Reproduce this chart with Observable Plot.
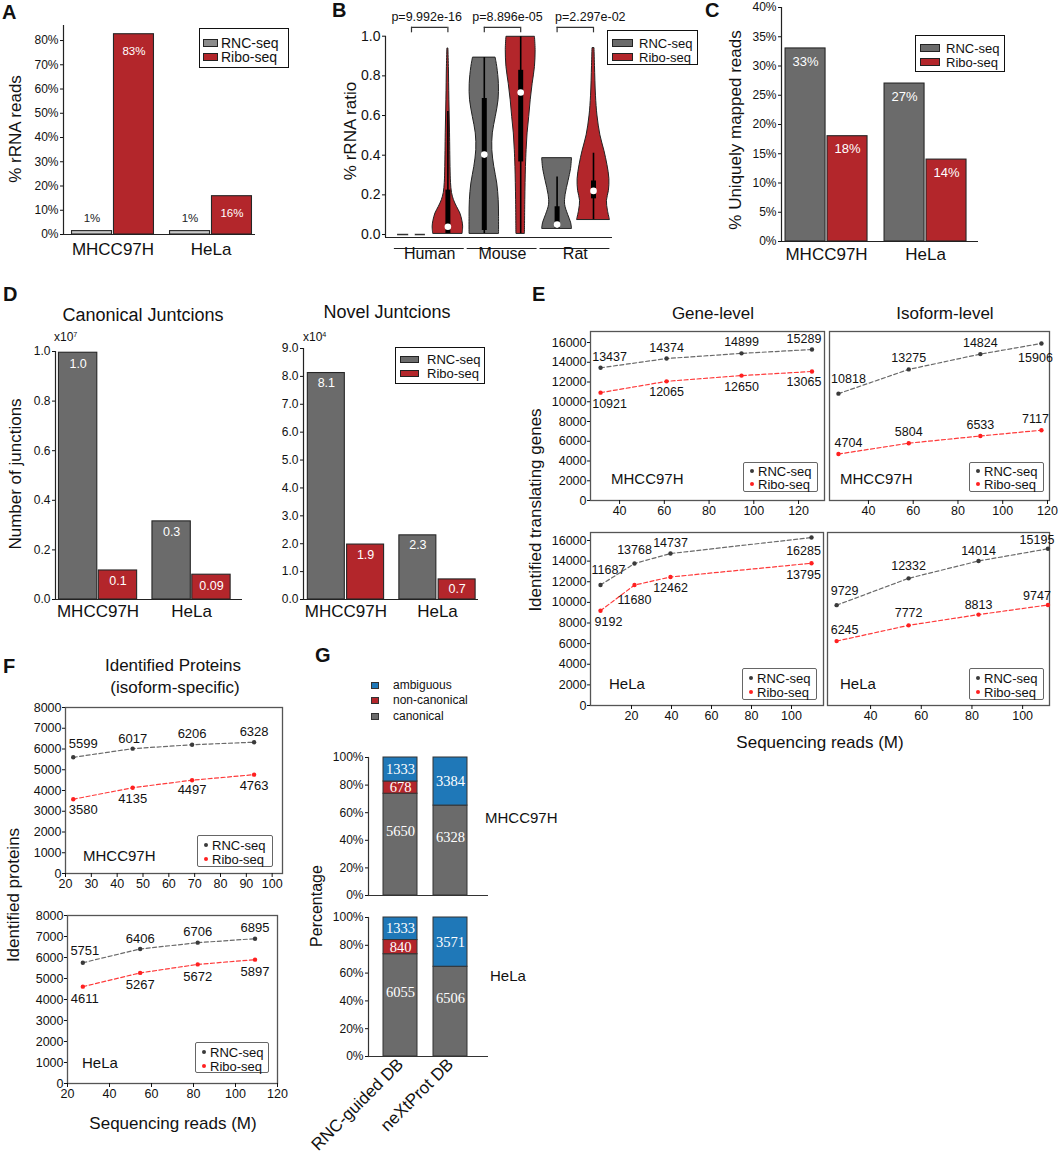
<!DOCTYPE html>
<html><head><meta charset="utf-8">
<script src="https://cdn.jsdelivr.net/npm/d3@7"></script>
<script src="https://cdn.jsdelivr.net/npm/@observablehq/plot@0.6"></script>
<style>
body{margin:0;background:#fff}
#fig{position:relative;width:1059px;height:1162px;background:#fff;font-family:"Liberation Sans",Arial,Helvetica,sans-serif;color:#111;overflow:hidden}
.t{position:absolute;white-space:nowrap;line-height:1}
.leg{position:absolute;border-style:solid;box-sizing:border-box;background:#fff}
sup{font-size:0.6em;vertical-align:0.6em;line-height:0}
</style></head><body><div id="fig"></div><script>
// ---------------- DATA ----------------
const cellLines = ["MHCC97H", "HeLa"];
const seqTypes = ["RNC-seq", "Ribo-seq"];
// A: % rRNA reads
const rrnaRNC = [1.4, 1.4];
const rrnaRibo = [82.6, 15.8];
// B: % rRNA ratio violins
const species = ["Human", "Mouse", "Rat"];
const pValues = ["p=9.992e-16", "p=8.896e-05", "p=2.297e-02"];
const humanRNCY = [0, 0];
const humanRNCD = [0.85, 0.85];
const humanRNCStats = [0, 0, 0, 0, 0];
const humanRiboY = [0.005, 0.04, 0.07, 0.106, 0.14, 0.173, 0.21, 0.26, 0.34, 0.51, 0.68, 0.845, 0.938];
const humanRiboD = [0.9, 0.93, 0.88, 0.76, 0.55, 0.37, 0.25, 0.19, 0.16, 0.13, 0.09, 0.06, 0.03];
const humanRiboStats = [0.005, 0.005, 0.039, 0.224, 0.62];
const mouseRNCY = [0.005, 0.089, 0.173, 0.257, 0.341, 0.425, 0.51, 0.593, 0.677, 0.76, 0.845, 0.892];
const mouseRNCD = [0.9, 0.9, 0.88, 0.79, 0.61, 0.49, 0.52, 0.7, 0.87, 0.89, 0.79, 0.69];
const mouseRNCStats = [0.005, 0.02, 0.403, 0.686, 0.892];
const mouseRiboY = [0.005, 0.173, 0.34, 0.425, 0.51, 0.593, 0.677, 0.76, 0.845, 0.93, 0.997];
const mouseRiboD = [0.26, 0.28, 0.32, 0.36, 0.42, 0.52, 0.61, 0.73, 0.87, 0.91, 0.87];
const mouseRiboStats = [0.005, 0.366, 0.716, 0.828, 0.997];
const ratRNCY = [0.03, 0.06, 0.1, 0.15, 0.2, 0.27, 0.33, 0.385];
const ratRNCD = [0.91, 0.85, 0.67, 0.49, 0.52, 0.7, 0.85, 0.91];
const ratRNCStats = [0.03, 0.03, 0.05, 0.14, 0.29];
const ratRiboY = [0.075, 0.12, 0.17, 0.22, 0.28, 0.35, 0.42, 0.5, 0.6, 0.7, 0.85, 0.94];
const ratRiboD = [1.0, 0.88, 0.82, 0.94, 0.97, 0.85, 0.67, 0.42, 0.24, 0.15, 0.09, 0.06];
const ratRiboStats = [0.075, 0.18, 0.22, 0.27, 0.41];
// C: % uniquely mapped reads
const uniqRNC = [33, 27];
const uniqRibo = [18, 14];
// D: junctions
const canonRNC = [0.995, 0.315];
const canonRibo = [0.117, 0.10];
const canonLabelsRNC = ["1.0", "0.3"];
const canonLabelsRibo = ["0.1", "0.09"];
const novelRNC = [8.12, 2.3];
const novelRibo = [1.97, 0.72];
const novelLabelsRNC = ["8.1", "2.3"];
const novelLabelsRibo = ["1.9", "0.7"];
// E: identified translating genes
const geneMHCCReads = [31.5, 61, 94.5, 126];
const geneMHCCRNC = [13437, 14374, 14899, 15289];
const geneMHCCRibo = [10921, 12065, 12650, 13065];
const isoMHCCReads = [26.6, 58, 90, 117.3];
const isoMHCCRNC = [10818, 13275, 14824, 15906];
const isoMHCCRibo = [4704, 5804, 6533, 7117];
const geneHeLaReads = [4.5, 21.5, 39.5, 110];
const geneHeLaRNC = [11687, 13768, 14737, 16285];
const geneHeLaRibo = [9192, 11680, 12462, 13795];
const isoHeLaReads = [26.6, 55, 82.6, 110];
const isoHeLaRNC = [9729, 12332, 14014, 15195];
const isoHeLaRibo = [6245, 7772, 8813, 9747];
// F: identified proteins
const protMHCCReads = [23, 46, 69, 93];
const protMHCCRNC = [5599, 6017, 6206, 6328];
const protMHCCRibo = [3580, 4135, 4497, 4763];
const protHeLaReads = [27.3, 54.6, 82, 109.3];
const protHeLaRNC = [5751, 6406, 6706, 6895];
const protHeLaRibo = [4611, 5267, 5672, 5897];
// G: protein categories
const dbNames = ["RNC-guided DB", "neXtProt DB"];
const protTypes = ["canonical", "non-canonical", "ambiguous"];
const mhccCanonical = [5650, 6328];
const mhccNonCanonical = [678, 0];
const mhccAmbiguous = [1333, 3384];
const helaCanonical = [6055, 6506];
const helaNonCanonical = [840, 0];
const helaAmbiguous = [1333, 3571];

// ---------------- STYLE ----------------
const FONT = '"Liberation Sans", Arial, Helvetica, sans-serif';
const SERIF = '"Liberation Serif", "DejaVu Serif", serif';
const GRAY = "#6b6b6b", RED = "#b3262b", LIGHT = "#c9c9c9", BLUE = "#1f78b8";
const fig = document.getElementById("fig");

function place(node, L, T) {
  node.style.position = "absolute"; node.style.left = L + "px"; node.style.top = T + "px";
  fig.appendChild(node); return node;
}
function box(L, T, W, H, x0, x1, y0, y1) {
  return {width: W, height: H, marginLeft: x0 - L, marginRight: L + W - x1, marginTop: y0 - T, marginBottom: T + H - y1};
}
const svgStyle = {fontFamily: FONT, background: "transparent", overflow: "visible", color: "#111"};
function label(str, x, y, o = {}) {
  const d = document.createElement("div");
  d.className = "t";
  if (o.html) d.innerHTML = str; else d.textContent = str;
  d.style.fontSize = (o.size || 14) + "px";
  d.style.fontWeight = o.weight || "normal";
  d.style.fontFamily = o.family || FONT;
  d.style.color = o.color || "#111";
  d.style.left = x + "px"; d.style.top = y + "px";
  const tx = o.anchor === "start" ? "0" : o.anchor === "end" ? "-100%" : "-50%";
  d.style.transform = `translate(${tx},-50%)` + (o.rotate ? ` rotate(${o.rotate}deg)` : "");
  fig.appendChild(d); return d;
}
function legend(x, y, w, h, rows, o) {
  const d = document.createElement("div");
  d.className = "leg";
  Object.assign(d.style, {left: x + "px", top: y + "px", width: w + "px", height: h + "px",
    borderColor: o.border || "#111", borderWidth: (o.bw || 1.5) + "px", borderRadius: (o.radius || 0) + "px"});
  rows.forEach(r => {
    const sw = o.sw;
    const s = document.createElement("div");
    Object.assign(s.style, {position: "absolute", left: sw.dx + "px", top: (r.ry - sw.h / 2) + "px",
      width: sw.w + "px", height: sw.h + "px", background: r.color, boxSizing: "border-box",
      border: sw.dot ? "none" : "1px solid #222", borderRadius: sw.dot ? "50%" : "0"});
    d.appendChild(s);
    const t = document.createElement("div");
    t.textContent = r.label;
    Object.assign(t.style, {position: "absolute", left: o.tx + "px", top: r.ry + "px", transform: "translateY(-50%)",
      fontSize: o.size + "px", lineHeight: "1", whiteSpace: "nowrap"});
    d.appendChild(t);
  });
  fig.appendChild(d);
}

// ---------------- grouped bars (A, C, D) ----------------
function groupedBars(c) {
  const rows = [];
  cellLines.forEach((g, gi) => c.series.forEach((vals, si) =>
    rows.push({group: g, gi, si, value: vals[gi], label: c.labels ? c.labels[si][gi] : c.fmt(vals[gi])})));
  const x1 = d => d.gi + (d.si === 0 ? -(c.bw + c.gap / 2) : c.gap / 2);
  const x2 = d => x1(d) + c.bw;
  const xm = d => (x1(d) + x2(d)) / 2;
  const p = Plot.plot({
    ...box(...c.box),
    style: svgStyle,
    x: {domain: c.xDomain},
    y: {domain: c.yDomain},
    color: {type: "identity"},
    marks: [
      Plot.rectY(rows, {x1, x2, y1: 0, y2: "value", fill: d => c.colors[d.si], stroke: "#262626", strokeWidth: 1.1}),
      Plot.ruleY([c.yDomain[0]], {stroke: "#222", strokeWidth: 1.2}),
      Plot.ruleX([c.xDomain[0]], {stroke: "#222", strokeWidth: 1.2}),
      Plot.axisY({ticks: c.yTicks, tickFormat: c.yFormat, tickSize: 3, tickPadding: 2, fontSize: c.tickSize, label: null}),
      Plot.axisX({ticks: [0, 1], tickFormat: i => cellLines[i], tickSize: 0, tickPadding: c.xPad, fontSize: 17, label: null}),
      ...[0, 1].map(si => Plot.text(rows.filter(r => r.si === si), {x: xm, y: "value", text: "label",
        dy: c.labelDy[si], fill: c.labelFill[si], fontSize: c.labelSize}))
    ]
  });
  place(p, c.box[0], c.box[1]);
}

// A
groupedBars({box: [0, 0, 262, 265, 63, 255, 25, 234], series: [rrnaRNC, rrnaRibo], colors: [LIGHT, RED],
  fmt: v => Math.round(v) + "%", xDomain: [-0.505, 1.454], bw: 0.408, gap: 0.02,
  yDomain: [0, 86.2], yTicks: d3.range(0, 81, 10), yFormat: d => d + "%", tickSize: 12, xPad: 8,
  labelDy: [-13, 17], labelFill: ["#222", "#fff"], labelSize: 11.5});
// C
groupedBars({box: [720, 0, 300, 265, 781, 978, 7, 241], series: [uniqRNC, uniqRibo], colors: [GRAY, RED],
  fmt: v => v + "%", xDomain: [-0.455, 1.535], bw: 0.404, gap: 0.02,
  yDomain: [0, 40], yTicks: d3.range(0, 41, 5), yFormat: d => d + "%", tickSize: 12, xPad: 6,
  labelDy: [13, 13], labelFill: ["#fff", "#fff"], labelSize: 13});
// D left
groupedBars({box: [0, 330, 250, 300, 55, 242, 351, 599], series: [canonRNC, canonRibo], colors: [GRAY, RED],
  labels: [canonLabelsRNC, canonLabelsRibo], xDomain: [-0.455, 1.545], bw: 0.41, gap: 0.016,
  yDomain: [0, 1], yTicks: d3.range(0, 1.01, 0.2), yFormat: d3.format(".1f"), tickSize: 12, xPad: 5,
  labelDy: [11, 11], labelFill: ["#fff", "#fff"], labelSize: 12.5});
// D right
groupedBars({box: [250, 330, 240, 300, 303, 478, 348, 599], series: [novelRNC, novelRibo], colors: [GRAY, RED],
  labels: [novelLabelsRNC, novelLabelsRibo], xDomain: [-0.464, 1.448], bw: 0.404, gap: 0.025,
  yDomain: [0, 9], yTicks: d3.range(0, 9.01, 1), yFormat: d3.format(".1f"), tickSize: 12, xPad: 5,
  labelDy: [10, 10], labelFill: ["#fff", "#fff"], labelSize: 12.5});

// ---------------- B violins ----------------
(function () {
  const shapes = [
    [humanRNCY, humanRNCD, humanRNCStats], [humanRiboY, humanRiboD, humanRiboStats],
    [mouseRNCY, mouseRNCD, mouseRNCStats], [mouseRiboY, mouseRiboD, mouseRiboStats],
    [ratRNCY, ratRNCD, ratRNCStats], [ratRiboY, ratRiboD, ratRiboStats]
  ];
  const K = 0.45; // max half-width in x units
  const outline = [], stats = [];
  shapes.forEach(([ys, ds, st], i) => {
    const pos = i, si = i % 2;
    ys.forEach((y, j) => outline.push({id: i, pos, si, y, d: ds[j]}));
    stats.push({id: i, pos, si, min: st[0], q1: st[1], med: st[2], q3: st[3], max: st[4]});
  });
  const yMin = -0.015;
  const groupRows = species.map((name, gi) => ({name, gi, p: pValues[gi]}));
  const bracketTop = 1.045, bracketFoot = 1.017, pY = 1.096;
  const pLabelDx = [-3, 5, 15];
  const violinOutline = outline.filter(d => d.id !== 0);
  const p = Plot.plot({
    ...box(300, 0, 330, 270, 385, 612, 35.7, 237),
    style: svgStyle,
    x: {domain: [-0.714, 5.522]},
    y: {domain: [yMin, 1.0]},
    color: {type: "identity"},
    marks: [
      Plot.areaX(violinOutline, {y: "y", x1: d => d.pos - d.d * K, x2: d => d.pos + d.d * K, z: "id",
        fill: d => d.si ? RED : GRAY, stroke: "#222", strokeWidth: 1, curve: "catmull-rom"}),
      Plot.ruleY(outline.filter(d => d.id === 0).slice(0, 1), {y: "y", x1: d => d.pos - d.d * K, x2: d => d.pos + d.d * K, stroke: "#333", strokeWidth: 1.5}),
      Plot.ruleX(stats, {x: "pos", y1: "min", y2: "max", stroke: "#000", strokeWidth: 1.6}),
      Plot.ruleX(stats, {x: "pos", y1: "q1", y2: "q3", stroke: "#000", strokeWidth: 5}),
      Plot.dot(stats, {x: "pos", y: "med", r: 3.3, fill: "#fff", stroke: "none"}),
      Plot.ruleY([yMin], {stroke: "#222", strokeWidth: 1.2}),
      Plot.ruleX([-0.714], {stroke: "#222", strokeWidth: 1.2}),
      Plot.axisY({ticks: d3.range(0, 1.01, 0.2), tickFormat: d3.format(".1f"), tickSize: 3, tickPadding: 2, fontSize: 14, label: null}),
      Plot.axisX({ticks: [], label: null}),
      Plot.ruleY(groupRows, {y: yMin, x1: d => d.gi * 2 - 0.47, x2: d => d.gi * 2 + 1.45, dy: 11, stroke: "#222", strokeWidth: 1.2}),
      Plot.text(groupRows, {x: d => d.gi * 2 + 0.5, frameAnchor: "bottom", dy: 21, text: "name", fontSize: 16}),
      Plot.ruleX(groupRows, {x: d => d.gi * 2, y1: bracketFoot, y2: bracketTop, stroke: "#333", strokeWidth: 1.2}),
      Plot.ruleX(groupRows, {x: d => d.gi * 2 + 1, y1: bracketFoot, y2: bracketTop, stroke: "#333", strokeWidth: 1.2}),
      Plot.ruleY(groupRows, {y: bracketTop, x1: d => d.gi * 2, x2: d => d.gi * 2 + 1, stroke: "#333", strokeWidth: 1.2}),
      ...groupRows.map(g => Plot.text([g], {x: d => d.gi * 2 + 0.5, y: pY, text: "p", fontSize: 12.5, dx: pLabelDx[g.gi]}))
    ]
  });
  place(p, 300, 0);
})();

// ---------------- line plots (E, F) ----------------
function seqPlot(c) {
  const rnc = c.reads.map((x, i) => ({x, v: c.rnc[i], i}));
  const ribo = c.reads.map((x, i) => ({x, v: c.ribo[i], i}));
  const n = c.reads.length;
  const dxOf = i => i === 0 ? c.edgeDx[0] : i === n - 1 ? c.edgeDx[1] : 0;
  const labelMarks = [];
  [[rnc, c.rncSide], [ribo, c.riboSide]].forEach(([rows, side]) => rows.forEach(d =>
    labelMarks.push(Plot.text([d], {x: "x", y: "v", text: r => String(r.v), dy: side[d.i] * c.off, dx: dxOf(d.i), fontSize: c.labelSize, fill: "#111"}))));
  const marks = [
    Plot.frame({stroke: "#555", strokeWidth: 1.3}),
    Plot.line(rnc, {x: "x", y: "v", stroke: "#6a6a6a", strokeWidth: 1.2, strokeDasharray: "4,2.5"}),
    Plot.line(ribo, {x: "x", y: "v", stroke: "#ff3a3a", strokeWidth: 1.2, strokeDasharray: "4,2.5"}),
    Plot.dot(rnc, {x: "x", y: "v", r: 2.2, fill: "#3a3a3a", stroke: "none"}),
    Plot.dot(ribo, {x: "x", y: "v", r: 2.2, fill: "#ff2020", stroke: "none"}),
    ...labelMarks,
    Plot.axisX({ticks: c.xTicks, tickSize: 4, tickPadding: 2, fontSize: c.tickSize, label: null})
  ];
  if (c.yAxis) marks.push(Plot.axisY({ticks: c.yTicks, tickFormat: d => String(d), tickSize: 3, tickPadding: 1, fontSize: c.tickSize, label: null}));
  const p = Plot.plot({
    ...box(...c.box),
    style: svgStyle,
    x: {domain: c.xDomain},
    y: c.yAxis ? {domain: c.yDomain} : {domain: c.yDomain, axis: null},
    marks
  });
  place(p, c.box[0], c.box[1]);
}
const eTicksY = d3.range(0, 16001, 2000);
seqPlot({box: [540, 320, 290, 205, 590, 824, 331, 500], xDomain: [27, 131.6], yDomain: [0, 17114], yAxis: true, yTicks: eTicksY,
  xTicks: [40, 60, 80, 100, 120], reads: geneMHCCReads, rnc: geneMHCCRNC, ribo: geneMHCCRibo,
  rncSide: [-1, -1, -1, -1], riboSide: [1, 1, 1, 1], edgeDx: [9, -8], off: 11, labelSize: 12.5, tickSize: 12.5});
seqPlot({box: [826, 320, 233, 205, 829, 1049, 331, 500], xDomain: [22.6, 120.9], yDomain: [0, 17114], yAxis: false,
  xTicks: [40, 60, 80, 100, 120], reads: isoMHCCReads, rnc: isoMHCCRNC, ribo: isoMHCCRibo,
  rncSide: [-1.3, -1, -1, 1.3], riboSide: [-1, -1, -1, -1], edgeDx: [10, -6], off: 11, labelSize: 12.5, tickSize: 12.5});
seqPlot({box: [540, 522, 290, 205, 590, 823, 532, 705], xDomain: [-0.5, 116], yDomain: [0, 16776], yAxis: true, yTicks: eTicksY,
  xTicks: [20, 40, 60, 80, 100], reads: geneHeLaReads, rnc: geneHeLaRNC, ribo: geneHeLaRibo,
  rncSide: [-1.4, -1.2, -1, 1.2], riboSide: [1, 1.35, 1, 1.1], edgeDx: [8, -8], off: 11, labelSize: 12.5, tickSize: 12.5});
seqPlot({box: [826, 522, 233, 205, 827, 1049, 532, 705], xDomain: [23, 110.6], yDomain: [0, 16776], yAxis: false,
  xTicks: [40, 60, 80, 100], reads: isoHeLaReads, rnc: isoHeLaRNC, ribo: isoHeLaRibo,
  rncSide: [-1.25, -1.15, -0.9, -0.8], riboSide: [-1, -1.1, -0.9, -0.8], edgeDx: [8, -11], off: 11, labelSize: 12.5, tickSize: 12.5});
const fTicksY = d3.range(0, 8001, 1000);
seqPlot({box: [0, 695, 300, 205, 65, 282, 707, 873], xDomain: [20, 104], yDomain: [0, 8000], yAxis: true, yTicks: fTicksY,
  xTicks: d3.range(20, 101, 10), reads: protMHCCReads, rnc: protMHCCRNC, ribo: protMHCCRibo,
  rncSide: [-1.25, -0.9, -1, -0.9], riboSide: [1, 1, 0.9, 1], edgeDx: [10, 0], off: 11, labelSize: 13, tickSize: 12.5});
seqPlot({box: [0, 905, 300, 205, 67, 277, 915, 1083], xDomain: [20, 120], yDomain: [0, 8000], yAxis: true, yTicks: fTicksY,
  xTicks: d3.range(20, 121, 20), reads: protHeLaReads, rnc: protHeLaRNC, ribo: protHeLaRibo,
  rncSide: [-1.1, -0.9, -1, -1], riboSide: [1.1, 1.1, 1.1, 1.15], edgeDx: [2, 0], off: 11, labelSize: 13, tickSize: 12.5});

// ---------------- G stacked ----------------
const typeColors = {"canonical": GRAY, "non-canonical": RED, "ambiguous": BLUE};
function stackPlot(c) {
  const rows = [];
  dbNames.forEach((db, di) => protTypes.forEach((t, ti) => rows.push({db, type: t, value: c.values[ti][di]})));
  const L = c.box[0];
  const marks = [
    Plot.barY(rows, Plot.stackY({x: "db", y: "value", offset: "normalize", fill: d => typeColors[d.type], stroke: "#333", strokeWidth: 1})),
    Plot.ruleY([0], {stroke: "#333", strokeWidth: 1.2}),
    Plot.frame({anchor: "left", stroke: "#333", strokeWidth: 1.2}),
    Plot.axisY({ticks: d3.range(0, 1.001, 0.2), tickFormat: d => Math.round(d * 100) + "%", tickSize: 3, tickPadding: 2, fontSize: 12, label: null}),
    Plot.text(rows, Plot.stackY({x: "db", y: "value", offset: "normalize", text: d => d.type === "canonical" ? String(d.value) : "",
      fill: "#fff", dy: -13, fontFamily: SERIF, fontSize: 14.5})),
    Plot.text(rows, Plot.stackY({x: "db", y: "value", offset: "normalize", text: d => d.type !== "canonical" && d.value > 0 ? String(d.value) : "",
      fill: "#fff", fontFamily: SERIF, fontSize: 14.5}))
  ];
  if (c.showX) marks.push(Plot.axisX({tickRotate: -45, fontSize: 17, tickSize: 0, tickPadding: 5, label: null}));
  const xs = {domain: dbNames, range: [383 - L, 467 - L], paddingInner: 0.33, paddingOuter: 0};
  if (!c.showX) xs.axis = null;
  const p = Plot.plot({
    ...box(...c.box),
    style: svgStyle,
    x: xs,
    y: {domain: [0, 1]},
    color: {type: "identity"},
    marks
  });
  place(p, c.box[0], c.box[1]);
}
stackPlot({box: [300, 745, 200, 160, 368, 488, 757, 895], values: [mhccCanonical, mhccNonCanonical, mhccAmbiguous], showX: false});
stackPlot({box: [300, 905, 200, 257, 368, 488, 917, 1056], values: [helaCanonical, helaNonCanonical, helaAmbiguous], showX: true});

// ---------------- legends ----------------
const seqRows = (c0, c1, ry0, ry1) => [{label: seqTypes[0], color: c0, ry: ry0}, {label: seqTypes[1], color: c1, ry: ry1}];
legend(199, 28, 90, 40, seqRows("#8c8c8c", RED, 13.5, 27.5), {sw: {dx: 3, w: 15, h: 8}, tx: 21, size: 14});
legend(607, 30, 91, 35, seqRows(GRAY, RED, 11.5, 25.5), {sw: {dx: 4, w: 21, h: 8}, tx: 31, size: 13});
legend(915, 35, 90, 37, seqRows(GRAY, RED, 12, 26), {sw: {dx: 4, w: 20, h: 8}, tx: 30, size: 13});
legend(395, 347, 90, 37, seqRows(GRAY, RED, 11, 25), {sw: {dx: 4, w: 19, h: 7}, tx: 31, size: 13});
const dotLeg = {sw: {dx: 6, w: 4, h: 4, dot: true}, tx: 14, size: 13, border: "#666", bw: 1.2, radius: 2};
legend(743, 462, 75, 30, seqRows("#3a3a3a", "#ff2020", 8, 21), dotLeg);
legend(969, 462, 75, 30, seqRows("#3a3a3a", "#ff2020", 8, 21), dotLeg);
legend(742, 668, 75, 32, seqRows("#3a3a3a", "#ff2020", 9, 23), dotLeg);
legend(969, 668, 75, 32, seqRows("#3a3a3a", "#ff2020", 9, 23), dotLeg);
legend(197, 835, 76, 32, seqRows("#3a3a3a", "#ff2020", 9, 23), dotLeg);
legend(195, 1042, 74, 31, seqRows("#3a3a3a", "#ff2020", 9, 23), dotLeg);
// G legend
[["ambiguous", BLUE, 685], ["non-canonical", RED, 700], ["canonical", GRAY, 716]].forEach(([t, col, y]) => {
  const s = document.createElement("div");
  Object.assign(s.style, {position: "absolute", left: "371px", top: (y - 3.5) + "px", width: "8px", height: "7px", background: col, border: "1px solid #333", boxSizing: "border-box"});
  fig.appendChild(s);
  label(t, 393, y, {size: 12, anchor: "start"});
});

// ---------------- text: letters, titles, axis labels ----------------
[["A", 2, 12], ["B", 332, 10], ["C", 705, 10], ["D", 3, 294], ["E", 532, 294], ["F", 3, 666], ["G", 315, 655]]
  .forEach(([t, x, y]) => label(t, x, y, {size: 20, weight: "bold", anchor: "start"}));
label("Canonical Juntcions", 143, 315, {size: 18});
label("Novel Juntcions", 387, 312, {size: 18});
label("Gene-level", 713, 313, {size: 17});
label("Isoform-level", 945, 313, {size: 17});
label("Identified Proteins", 173, 665, {size: 17});
label("(isoform-specific)", 175, 687, {size: 17});
label("x10<sup>7</sup>", 54, 337, {size: 12, anchor: "start", html: true});
label("x10<sup>4</sup>", 303, 337, {size: 12, anchor: "start", html: true});
label("% rRNA reads", 15, 129, {size: 17, rotate: -90});
label("% rRNA ratio", 350, 131, {size: 17, rotate: -90});
label("% Uniquely mapped reads", 735, 130, {size: 17, rotate: -90});
label("Number of junctions", 15, 474, {size: 17, rotate: -90});
label("Identified translating genes", 535, 510, {size: 17, rotate: -90});
label("Identified proteins", 13, 895, {size: 17, rotate: -90});
label("Percentage", 317, 906, {size: 16, rotate: -90});
label("Sequencing reads (M)", 820, 742, {size: 17});
label("Sequencing reads (M)", 173, 1123, {size: 17});
label("MHCC97H", 611, 478, {size: 15, anchor: "start"});
label("MHCC97H", 840, 478, {size: 15, anchor: "start"});
label("HeLa", 609, 683, {size: 15, anchor: "start"});
label("HeLa", 840, 683, {size: 15, anchor: "start"});
label("MHCC97H", 83, 855, {size: 15, anchor: "start"});
label("HeLa", 82, 1062, {size: 15, anchor: "start"});
label("MHCC97H", 485, 817, {size: 15, anchor: "start"});
label("HeLa", 490, 975, {size: 15, anchor: "start"});
</script></body></html>
